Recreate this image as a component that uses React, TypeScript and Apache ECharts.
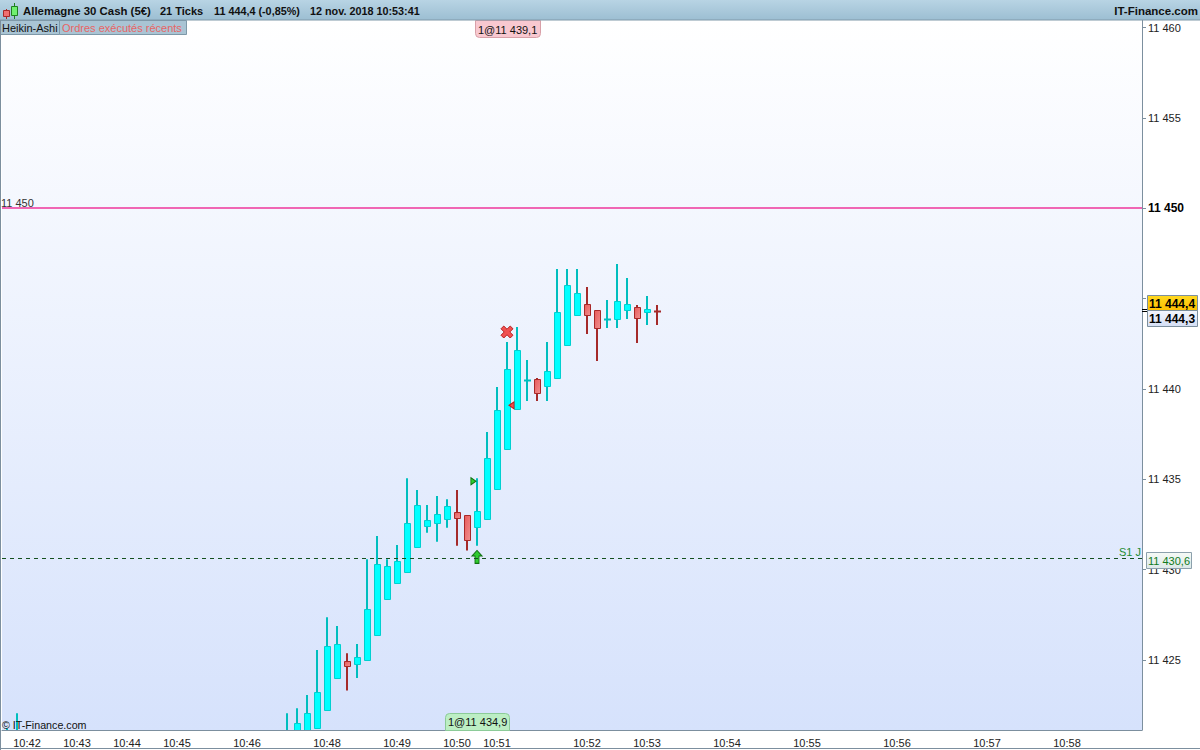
import React, { useEffect, useRef } from "react";
import * as echarts from "echarts";

const FONT = '"Liberation Sans", Arial, sans-serif';

const slotCount = 114;
const tickSlots = [2, 7, 12, 17, 24, 32, 39, 45, 49, 58, 64, 72, 80, 89, 98, 106];
const tickLabels = ["10:42", "10:43", "10:44", "10:45", "10:46", "10:48", "10:49", "10:50", "10:51", "10:52", "10:53", "10:54", "10:55", "10:56", "10:57", "10:58"];

const candleSlots = [0, 1, 28, 29, 30, 31, 32, 33, 34, 35, 36, 37, 38, 39, 40, 41, 42, 43, 44, 45, 46, 47, 48, 49, 50, 51, 52, 53, 54, 55, 56, 57, 58, 59, 60, 61, 62, 63, 64, 65];
const opens = [11420.5, 11420.0, 11420.6, 11420.8, 11420.9, 11421.22, 11422.21, 11423.98, 11424.93, 11424.76, 11424.98, 11426.36, 11428.36, 11429.24, 11429.85, 11431.23, 11432.4, 11432.56, 11432.78, 11433.17, 11433.01, 11432.34, 11432.78, 11434.44, 11436.66, 11438.87, 11440.47, 11440.53, 11440.14, 11440.59, 11442.41, 11444.07, 11444.68, 11444.35, 11443.85, 11443.85, 11444.35, 11444.52, 11444.24, 11444.32];
const closes = [11420.8, 11420.5, 11421.0, 11421.5, 11422.05, 11423.21, 11425.77, 11425.87, 11424.65, 11425.15, 11427.8, 11430.29, 11430.18, 11430.46, 11432.56, 11433.56, 11432.73, 11433.06, 11433.5, 11432.84, 11431.62, 11433.23, 11436.16, 11438.82, 11441.08, 11442.14, 11440.51, 11439.76, 11440.97, 11444.24, 11445.73, 11445.29, 11444.07, 11443.35, 11443.89, 11444.85, 11444.68, 11443.91, 11444.41, 11444.3];
const lows = [11420.3, 11419.8, 11420.4, 11420.6, 11420.7, 11421.22, 11422.21, 11423.98, 11423.3, 11424.0, 11424.98, 11426.36, 11428.36, 11429.24, 11429.85, 11431.23, 11432.04, 11431.54, 11432.32, 11431.32, 11431.05, 11431.32, 11432.78, 11434.44, 11436.66, 11438.87, 11439.33, 11439.33, 11439.33, 11440.59, 11442.41, 11444.07, 11443.04, 11441.54, 11443.37, 11443.37, 11443.87, 11442.54, 11443.54, 11443.54];
const highs = [11421.22, 11422.05, 11422.05, 11422.32, 11423.06, 11425.55, 11427.36, 11426.88, 11425.37, 11425.88, 11430.57, 11431.86, 11430.57, 11431.36, 11435.05, 11434.41, 11433.58, 11434.07, 11433.89, 11434.41, 11433.01, 11435.05, 11437.62, 11440.11, 11442.6, 11443.43, 11441.6, 11440.6, 11442.6, 11446.64, 11446.64, 11446.64, 11445.64, 11444.35, 11444.92, 11446.91, 11446.14, 11444.64, 11445.14, 11444.64];

const priceTicks = [11425, 11430, 11435, 11440, 11445, 11450, 11455, 11460];
const priceLabels = [11425, 11430, 11435, 11440, 11450, 11455, 11460];
const axisMin = 11421.12;
const axisMax = 11460.42;
const resistanceLevel = 11450;
const supportLevel = 11430.6;

const AXIS = "#7C8F9E";
const fmtPrice = (v: number) => String(v).replace(/^(\d\d)(\d{3})/, "$1 $2");

const ARROW = "path://M5 0 L10 6 L7 6 L7 14 L3 14 L3 6 L0 6 Z";
const CROSS = "path://M3 0 L6.5 3.5 L10 0 L13 3 L9.5 6.5 L13 10 L10 13 L6.5 9.5 L3 13 L0 10 L3.5 6.5 L0 3 Z";

const renderCandle = (_: any, api: any) => {
  const slot = api.value(0);
  const o = api.value(1);
  const c = api.value(2);
  const up = c >= o;
  const cx = api.coord([slot, o])[0];
  const yO = api.coord([slot, o])[1];
  const yC = api.coord([slot, c])[1];
  const yL = api.coord([slot, api.value(3)])[1];
  const yH = api.coord([slot, api.value(4)])[1];
  const wick = up ? "#00BEBE" : "#A52A2A";
  const edge = up ? "#00D0D0" : "#A82828";
  const fill = up
    ? "#00FFFF"
    : new echarts.graphic.LinearGradient(0, 0, 1, 1, [
        { offset: 0, color: "#E85A5A" },
        { offset: 1, color: "#F09090" },
      ]);
  const top = Math.round(Math.min(yO, yC)) + 0.5;
  const h = Math.round(Math.abs(yO - yC));
  const flat = h < 2;
  return {
    type: "group",
    children: [
      { type: "rect", shape: { x: cx - 1, y: yH, width: 2, height: yL - yH }, style: { fill: wick } },
      flat
        ? { type: "rect", shape: { x: cx - 3, y: top - 1, width: 7, height: 2 }, style: { fill: wick } }
        : { type: "rect", shape: { x: cx - 2.5, y: top, width: 6, height: h }, style: { fill, stroke: edge, lineWidth: 1 } },
    ],
  };
};

const label = (x: number, y: number, text: string, extra: any = {}) => ({
  type: "text",
  z: 30,
  style: { x, y, text, fontFamily: FONT, fontSize: 11, fill: "#111", textVerticalAlign: "middle", ...extra },
});
const box = (x: number, y: number, width: number, height: number, style: any, r: any = 0, z = 20) => ({
  type: "rect",
  z,
  shape: { x, y, width, height, r },
  style,
});
const vGrad = (a: string, b: string) => new echarts.graphic.LinearGradient(0, 0, 0, 1, [{ offset: 0, color: a }, { offset: 1, color: b }]);

export default function App() {
  const ref = useRef<HTMLDivElement>(null);
  useEffect(() => {
    document.body.style.margin = "0";
    const chart = echarts.init(ref.current!, undefined, { renderer: "svg" });
    const categories = Array.from({ length: slotCount }, (_, i) => {
      const k = tickSlots.indexOf(i);
      return k >= 0 ? tickLabels[k] : "";
    });
    chart.setOption({
      animation: false,
      backgroundColor: "#FFFFFF",
      textStyle: { fontFamily: FONT },
      grid: {
        show: true,
        left: 2,
        right: 58,
        top: 20,
        bottom: 20,
        borderWidth: 0,
        backgroundColor: new echarts.graphic.LinearGradient(0, 0, 0, 1, [
          { offset: 0, color: "#FFFFFF" },
          { offset: 1, color: "#D6E2FC" },
        ]),
      },
      xAxis: {
        type: "category",
        data: categories,
        boundaryGap: true,
        axisLine: { lineStyle: { color: AXIS, width: 1 } },
        axisTick: { alignWithLabel: true, length: 4, lineStyle: { color: AXIS }, interval: (i: number) => tickSlots.includes(i) },
        axisLabel: { interval: (i: number) => tickSlots.includes(i), color: "#222", fontSize: 11, fontFamily: FONT, margin: 7 },
        splitLine: { show: false },
      },
      yAxis: {
        type: "value",
        position: "right",
        min: axisMin,
        max: axisMax,
        scale: true,
        axisLine: { show: true, lineStyle: { color: AXIS, width: 1 } },
        axisTick: { show: true, length: 4, lineStyle: { color: AXIS }, customValues: priceTicks },
        axisLabel: {
          customValues: priceLabels,
          color: "#222",
          fontSize: 11,
          fontFamily: FONT,
          margin: 6,
          formatter: (v: number) => (v === resistanceLevel ? `{b|${fmtPrice(v)}}` : fmtPrice(v)),
          rich: { b: { fontWeight: "bold", fontSize: 12, color: "#000", fontFamily: FONT } },
        },
        splitLine: { show: false },
      },
      series: [
        {
          type: "custom",
          name: "Heikin-Ashi",
          z: 2,
          clip: true,
          renderItem: renderCandle,
          encode: { x: 0, y: [1, 2, 3, 4] },
          data: candleSlots.map((s, i) => [s, opens[i], closes[i], lows[i], highs[i]]),
        },
        {
          type: "scatter",
          name: "Sell entry",
          z: 3,
          data: [[51, 11439.09]],
          symbol: "triangle",
          symbolRotate: 90,
          symbolSize: [7, 5],
          symbolOffset: [-5.5, 0],
          itemStyle: { color: "#F05050", borderColor: "#C02020", borderWidth: 1, opacity: 1 },
          markLine: {
            silent: true,
            symbol: "none",
            animation: false,
            data: [
              {
                yAxis: resistanceLevel,
                lineStyle: { color: "#F066B4", width: 2, type: "solid" },
                label: { show: true, position: "insideStartTop", formatter: fmtPrice(resistanceLevel), color: "#333", fontSize: 11, fontFamily: FONT, distance: [-1, 0] },
              },
              {
                yAxis: supportLevel,
                lineStyle: { color: "#14501E", width: 1, type: [4, 4] },
                label: { show: true, position: "insideEndTop", formatter: "S1 J", color: "#1E8C32", fontSize: 11, fontFamily: FONT, distance: [1, 1] },
              },
            ],
          },
        },
        {
          type: "scatter",
          name: "Buy entry",
          z: 3,
          data: [[47, 11434.89]],
          symbol: "triangle",
          symbolRotate: -90,
          symbolSize: [7, 5],
          symbolOffset: [-3.6, 0],
          itemStyle: { color: "#30D030", borderColor: "#107010", borderWidth: 1, opacity: 1 },
        },
        {
          type: "scatter",
          name: "Stop arrow",
          z: 3,
          data: [[47, 11430.7]],
          symbol: ARROW,
          symbolSize: [10, 13],
          itemStyle: { color: "#30CC30", borderColor: "#107010", borderWidth: 1, opacity: 1 },
        },
        {
          type: "scatter",
          name: "Exit",
          z: 3,
          data: [[50, 11443.15]],
          symbol: CROSS,
          symbolSize: 12,
          itemStyle: { color: "#F05050", borderColor: "#B82020", borderWidth: 1, opacity: 1 },
        },
      ],
      graphic: [
        box(0, 0, 1200, 20, { fill: vGrad("#B8D4E4", "#9CBED2") }),
        { type: "line", z: 21, shape: { x1: 0, y1: 20, x2: 1200, y2: 20 }, style: { stroke: "#7E98A8", lineWidth: 1 } },
        { type: "line", z: 21, shape: { x1: 0.5, y1: 20, x2: 0.5, y2: 750 }, style: { stroke: AXIS, lineWidth: 1 } },
        { type: "line", z: 21, shape: { x1: 0, y1: 748.5, x2: 1200, y2: 748.5 }, style: { stroke: AXIS, lineWidth: 1 } },
        // window icon
        { type: "line", z: 22, shape: { x1: 6.5, y1: 9, x2: 6.5, y2: 19 }, style: { stroke: "#A82828", lineWidth: 1 } },
        box(3.5, 10.5, 6, 6, { fill: "#F07070", stroke: "#A82828", lineWidth: 1 }, 0, 23),
        { type: "line", z: 22, shape: { x1: 14.5, y1: 3, x2: 14.5, y2: 19 }, style: { stroke: "#208020", lineWidth: 1 } },
        box(11.5, 6.5, 6, 9, { fill: "#70F070", stroke: "#208020", lineWidth: 1 }, 0, 23),
        label(23, 10.5, "Allemagne 30 Cash (5€)", { fontWeight: "bold", fontSize: 11.4 }),
        label(160, 10.5, "21 Ticks", { fontWeight: "bold" }),
        label(214, 10.5, "11 444,4 (-0,85%)", { fontWeight: "bold", fontSize: 10.8 }),
        label(310, 10.5, "12 nov. 2018 10:53:41", { fontWeight: "bold", fontSize: 10.8 }),
        label(1198, 10.5, "IT-Finance.com", { fontWeight: "bold", fontSize: 11.5, textAlign: "right" }),
        // tabs
        box(0.5, 20.5, 59, 14, { fill: "#A9C4D4", stroke: "#7E98A8", lineWidth: 1 }),
        box(59.5, 20.5, 127, 14, { fill: "#A9C4D4", stroke: "#7E98A8", lineWidth: 1 }),
        label(2, 27.5, "Heikin-Ashi"),
        label(62, 27.5, "Ordres exécutés récents", { fill: "#E86464" }),
        // order tags
        box(475.5, 20.5, 65, 17, { fill: "#F8C8D0", stroke: "#D8A0A8", lineWidth: 1 }, [0, 0, 4, 4]),
        label(478, 29.5, "1@11 439,1"),
        box(445.5, 713.5, 64, 17, { fill: "#BCEEC4", stroke: "#8CCB98", lineWidth: 1 }, [4, 4, 0, 0]),
        label(448, 722, "1@11 434,9"),
        label(2, 724.5, "© IT-Finance.com", { fontSize: 10.7 }),
        // price tags
        { type: "line", z: 21, shape: { x1: 1142, y1: 309.5, x2: 1147, y2: 309.5 }, style: { stroke: "#000", lineWidth: 1 } },
        { type: "line", z: 21, shape: { x1: 1142, y1: 311.5, x2: 1147, y2: 311.5 }, style: { stroke: "#000", lineWidth: 1 } },
        box(1147.5, 295.5, 50, 15, { fill: vGrad("#FFD820", "#FFC000"), stroke: AXIS, lineWidth: 1 }),
        label(1149, 303.5, "11 444,4", { fontWeight: "bold", fontSize: 12, fill: "#000" }),
        box(1147.5, 310.5, 50, 16, { fill: vGrad("#F4F6FE", "#D4DEF4"), stroke: AXIS, lineWidth: 1 }),
        label(1149, 319, "11 444,3", { fontWeight: "bold", fontSize: 12, fill: "#000" }),
        box(1146.5, 552.5, 45, 16, { fill: vGrad("#F6FAF6", "#DCE8E8"), stroke: "#8CA0AC", lineWidth: 1 }),
        label(1148, 561, "11 430,6", { fill: "#107A20", fontSize: 11 }),
      ],
    });
    return () => chart.dispose();
  }, []);
  return <div ref={ref} style={{ position: "absolute", left: 0, top: 0, width: 1200, height: 750 }} />;
}
